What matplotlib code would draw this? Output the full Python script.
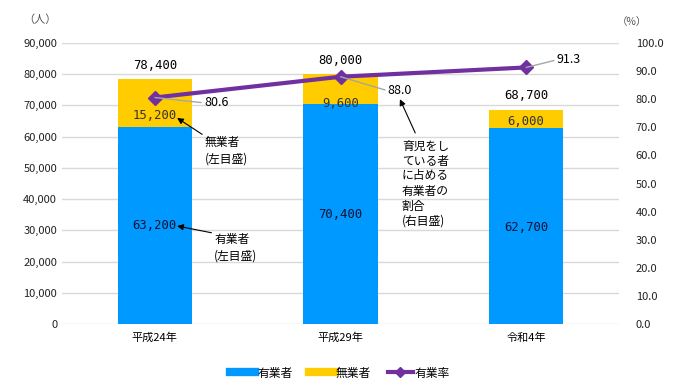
import matplotlib
matplotlib.use("Agg")
import matplotlib.pyplot as plt
from matplotlib.lines import Line2D
from matplotlib.ticker import FuncFormatter

plt.rcParams['font.family'] = ['Noto Sans CJK JP', 'DejaVu Sans']

categories = ["平成24年", "平成29年", "令和4年"]
employed = [63200, 70400, 62700]
unemployed = [15200, 9600, 6000]
totals = [78400, 80000, 68700]
rate = [80.6, 88.0, 91.3]

BLUE = "#0099FF"
YELLOW = "#FFCC00"
PURPLE = "#7030A0"

fig = plt.figure(figsize=(6.79, 3.9), dpi=100)
ax = fig.add_axes([62/679, 1-324/390, 557/679, 281/390])
ax2 = ax.twinx()

x = list(range(len(categories)))
ax.bar(x, employed, width=0.4, color=BLUE, zorder=2)
ax.bar(x, unemployed, width=0.4, bottom=employed, color=YELLOW, zorder=2)

ax.set_ylim(0, 90000)
ax.set_xlim(-0.5, 2.5)
ax.set_yticks(range(0, 90001, 10000))
ax.yaxis.set_major_formatter(FuncFormatter(lambda v, p: f"{int(v):,}"))
ax.grid(axis='y', color='#D9D9D9', linewidth=1, zorder=0)
ax.set_axisbelow(True)
ax.set_xticks(x)
ax.set_xticklabels(categories, fontsize=8.5)
ax.tick_params(axis='both', length=0, labelsize=8)
ax.tick_params(axis='x', pad=6)
for s in ax.spines.values():
    s.set_visible(False)
for s in ax2.spines.values():
    s.set_visible(False)

ax2.set_ylim(0, 100)
ax2.set_yticks(range(0, 101, 10))
ax2.yaxis.set_major_formatter(FuncFormatter(lambda v, p: f"{v:.1f}"))
ax2.tick_params(axis='y', length=0, labelsize=8, pad=12, colors='#222222')
ax.tick_params(axis='y', colors='#222222')

ax2.plot(x, rate, color=PURPLE, linewidth=3, marker='D', markersize=7, zorder=5)

MONO = 'DejaVu Sans Mono'
# total labels
for i, t in enumerate(totals):
    ax.text(i, t + 4500, f"{t:,}", ha='center', va='center', fontsize=8.8, family=MONO)

# segment labels
emp_y = [31600, 35200, 31000]
unemp_y = [66800, 70700, 65000]
for i in x:
    ax.text(i, emp_y[i], f"{employed[i]:,}", ha='center', va='center', fontsize=8.8,
            color='#111133', family=MONO)
    ax.text(i, unemp_y[i], f"{unemployed[i]:,}", ha='center', va='center', fontsize=8.8,
            color='#333333', family=MONO)

# rate labels with leader lines
rate_text_pos = [(0.33, 78.7), (1.32, 83.0), (2.23, 94.0)]
for i, (tx, ty) in enumerate(rate_text_pos):
    ax2.annotate(f"{rate[i]:.1f}", xy=(i, rate[i]), xytext=(tx, ty), fontsize=9,
                 va='center', ha='center',
                 arrowprops=dict(arrowstyle='-', color='#A6A6A6', lw=1, shrinkA=0, shrinkB=0,
                                 relpos=(0, 0.5)),
                 zorder=6)

# annotations with arrows
ax.annotate("無業者\n(左目盛)", xy=(0.12, 66000), xytext=(0.27, 55500), fontsize=8.5,
            ha='left', va='center', linespacing=1.3,
            arrowprops=dict(arrowstyle='-|>', color='black', lw=0.8, shrinkA=0, shrinkB=0,
                            mutation_scale=9, relpos=(0, 1)))
ax.annotate("有業者\n(左目盛)", xy=(0.12, 31400), xytext=(0.32, 24400), fontsize=8.5,
            ha='left', va='center', linespacing=1.3,
            arrowprops=dict(arrowstyle='-|>', color='black', lw=0.8, shrinkA=0, shrinkB=0,
                            mutation_scale=9, relpos=(0, 1)))
ax.annotate("育児をし\nている者\nに占める\n有業者の\n割合\n(右目盛)", xy=(1.32, 72000),
            xytext=(1.33, 45000), fontsize=8.5, ha='left', va='center', linespacing=1.2,
            arrowprops=dict(arrowstyle='-|>', color='black', lw=0.8, shrinkA=3, shrinkB=0,
                            mutation_scale=9, relpos=(0.35, 1)))

fig.text(40/679, 1-20/390, "（人）", fontsize=8, color='#555555', ha='center', va='center')
fig.text(632/679, 1-22/390, "（%）", fontsize=7.5, color='#555555', ha='center', va='center')

handles = [
    Line2D([0], [0], color=BLUE, linewidth=6),
    Line2D([0], [0], color=YELLOW, linewidth=6),
    Line2D([0], [0], color=PURPLE, linewidth=3, marker='D', markersize=5),
]
fig.legend(handles, ["有業者", "無業者", "有業率"], loc='center', bbox_to_anchor=(340/679, 1-373/390),
           ncol=3, frameon=False, fontsize=8.5, handlelength=2.1, handletextpad=0.2, columnspacing=1.4)

fig.savefig("out.png", dpi=100)
